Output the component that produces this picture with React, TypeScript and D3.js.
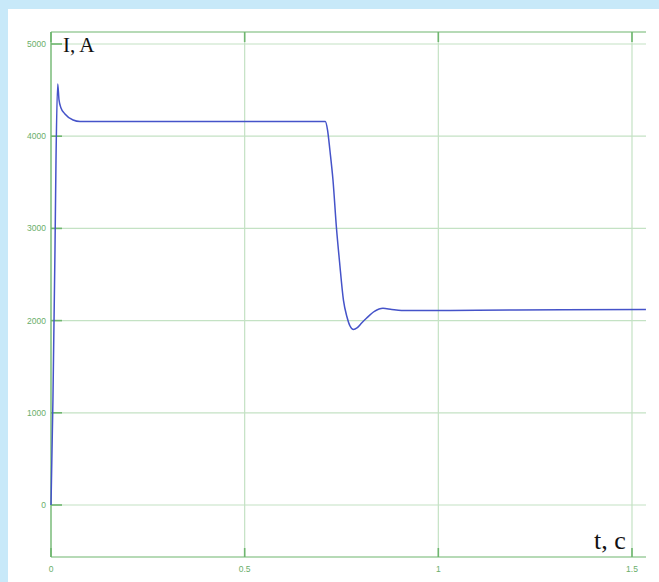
import React from "react";
import * as d3 from "d3";

const timeValues = [0, 0.005, 0.0103, 0.0129, 0.0173, 0.0207, 0.0258, 0.036, 0.057, 0.075, 0.3, 0.5, 0.708, 0.714, 0.72, 0.728, 0.737, 0.745, 0.755, 0.764, 0.772, 0.781, 0.79, 0.802, 0.815, 0.835, 0.857, 0.88, 0.905, 1.0, 1.2, 1.536];
const currentValues = [0, 1140, 2770, 3740, 4566, 4393, 4306, 4241, 4176, 4160, 4160, 4160, 4160, 4067, 3850, 3525, 3004, 2636, 2223, 2042, 1941, 1903, 1920, 1974, 2028, 2099, 2133, 2120, 2110, 2110, 2115, 2120];
const yTicks = [0, 1000, 2000, 3000, 4000, 5000];
const xTicks = [0, 0.5, 1, 1.5];
const xTickLabels = ["0", "0.5", "1", "1.5"];
const yTickLabels = ["0", "1000", "2000", "3000", "4000", "5000"];

export default function App() {
  const W = 659, H = 582;
  const left = 51, right = 646, top = 32, bottom = 557;
  const x = d3.scaleLinear().domain([0, 1.5]).range([left, 632]);
  const y = d3.scaleLinear().domain([0, 5000]).range([505, 44]);
  const data = timeValues.map((t, i) => [t, currentValues[i]] as [number, number]);
  const line = d3.line<[number, number]>().x(d => x(d[0])).y(d => y(d[1])).curve(d3.curveMonotoneX);
  const gridColor = "#c4e2c4";
  const axisColor = "#6fb66f";
  const labelColor = "#6aae6a";
  return (
    <svg width={W} height={H} style={{ position: "fixed", left: 0, top: 0 }}>
      <rect x={0} y={0} width={W} height={H} fill="#c8e9f9" />
      <rect x={8} y={9} width={W} height={H} fill="#ffffff" />
      {yTicks.map(v => (
        <line key={"gy" + v} x1={left} x2={right} y1={y(v)} y2={y(v)} stroke={gridColor} strokeWidth={1.2} />
      ))}
      {xTicks.map(v => (
        <line key={"gx" + v} x1={x(v)} x2={x(v)} y1={top} y2={bottom} stroke={gridColor} strokeWidth={1.2} />
      ))}
      <line x1={left} x2={right} y1={top} y2={top} stroke={axisColor} strokeWidth={1.2} />
      <line x1={left} x2={right} y1={bottom} y2={bottom} stroke={axisColor} strokeWidth={1.2} />
      <line x1={left} x2={left} y1={top} y2={bottom} stroke={axisColor} strokeWidth={1.2} />
      {yTicks.map(v => (
        <line key={"ty" + v} x1={left} x2={left + 11} y1={y(v)} y2={y(v)} stroke={axisColor} strokeWidth={1.6} />
      ))}
      {xTicks.map(v => (
        <g key={"tx" + v}>
          <line x1={x(v)} x2={x(v)} y1={bottom} y2={bottom - 9} stroke={axisColor} strokeWidth={1.6} />
          <line x1={x(v)} x2={x(v)} y1={top} y2={top + 10} stroke={axisColor} strokeWidth={1.6} />
        </g>
      ))}
      {yTicks.map((v, i) => (
        <text key={"ly" + v} x={46} y={y(v) + 3} textAnchor="end" fontFamily="Liberation Sans, Arial, sans-serif" fontSize={8.5} fill={labelColor}>{yTickLabels[i]}</text>
      ))}
      {xTicks.map((v, i) => (
        <text key={"lx" + v} x={x(v)} y={572} textAnchor="middle" fontFamily="Liberation Sans, Arial, sans-serif" fontSize={8.5} fill={labelColor}>{xTickLabels[i]}</text>
      ))}
      <path d={line(data) || ""} fill="none" stroke="#4553c9" strokeWidth={1.5} />
      <text x={63} y={52} fontFamily="Liberation Serif, Times New Roman, serif" fontSize={21} fill="#111">I, A</text>
      <text x={594} y={549} fontFamily="Liberation Serif, Times New Roman, serif" fontSize={26} fill="#111">t, c</text>
    </svg>
  );
}
